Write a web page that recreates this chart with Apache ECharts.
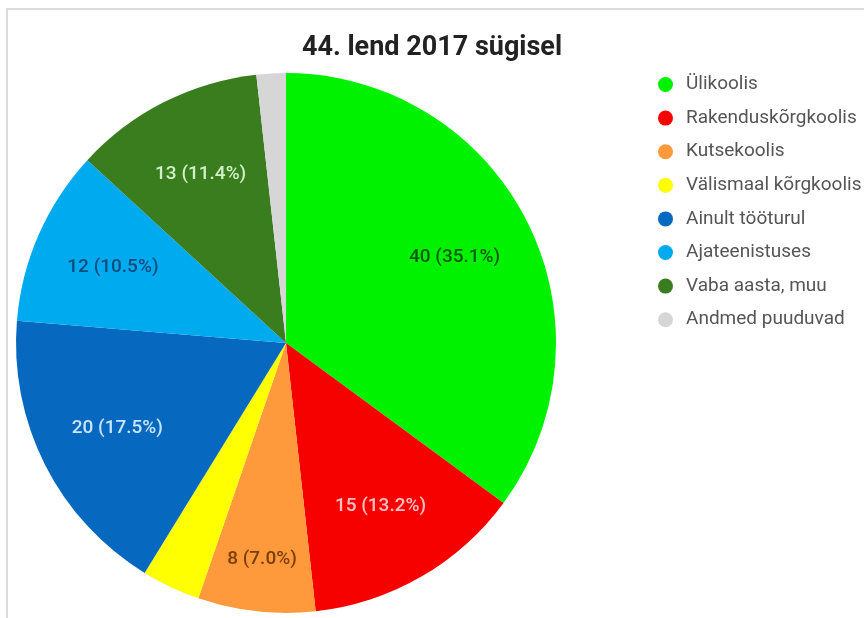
<!DOCTYPE html>
<html>
<head>
<meta charset="utf-8">
<script src="https://cdn.jsdelivr.net/npm/echarts@6/dist/echarts.min.js"></script>
<style>
html,body{margin:0;padding:0;background:#fff;}
#chart{width:864px;height:618px;}
</style>
</head>
<body>
<div id="chart"></div>
<script>
const titleText = '44. lend 2017 sügisel';
const categories = ['Ülikoolis','Rakenduskõrgkoolis','Kutsekoolis','Välismaal kõrgkoolis','Ainult tööturul','Ajateenistuses','Vaba aasta, muu','Andmed puuduvad'];
const values = [40, 15, 8, 4, 20, 12, 13, 2];
const colors = ['#00f200','#f70000','#ff9a3c','#ffff00','#0669bf','#00aaee','#3a7d1f','#d6d6d6'];
const labelColors = ['#0b5a0b','#ffc0c0','#7a3e08',null,'#c8e4ff','#0c4d80','#d0f0c8',null];
// which labels sit further out toward the rim
const outerLabel = ['Kutsekoolis'];

const chart = echarts.init(document.getElementById('chart'), null, {renderer:'canvas'});

const mainData = categories.map((n,i)=>({name:n, value:values[i], itemStyle:{color:colors[i]}}));
function labelData(outer){
  return categories.map((n,i)=>({
    name:n, value:values[i],
    itemStyle:{color:'rgba(0,0,0,0)'},
    label:{show: labelColors[i]!==null && (outerLabel.indexOf(n)>=0)===outer, color: labelColors[i] || '#000'}
  }));
}
const labelStyle = {
  position:'inside', fontFamily:'Roboto', fontSize:19, fontWeight:500,
  formatter:p=>p.value+' ('+p.percent.toFixed(1)+'%)'
};

chart.setOption({
  backgroundColor:'#fff',
  animation:false,
  title:{
    text:titleText, left:'center', top:30,
    padding:[5,0,5,12],
    textStyle:{fontFamily:'Roboto', fontSize:27, fontWeight:'bold', color:'#222'}
  },
  legend:{
    orient:'vertical', left:653, top:70,
    icon:'circle', itemWidth:15, itemHeight:15, itemGap:14.6,
    data:categories,
    textStyle:{fontFamily:'Roboto', fontSize:19, color:'#555', padding:[0,0,0,8]}
  },
  graphic:[{
    type:'rect', silent:true, z:-1,
    shape:{x:7, y:9, width:900, height:700},
    style:{fill:'none', stroke:'#dcdcdc', lineWidth:2}
  }],
  series:[
    {
      type:'pie', center:[286,343], radius:[0,270],
      startAngle:90, clockwise:true, silent:true,
      label:{show:false}, labelLine:{show:false},
      itemStyle:{borderWidth:0},
      data:mainData
    },
    {
      type:'pie', center:[286,343], radius:[102,270],
      startAngle:90, clockwise:true, silent:true,
      percentPrecision:3, labelLine:{show:false},
      label:labelStyle,
      data:labelData(false)
    },
    {
      type:'pie', center:[286,343], radius:[160,270],
      startAngle:90, clockwise:true, silent:true,
      percentPrecision:3, labelLine:{show:false},
      label:labelStyle,
      data:labelData(true)
    }
  ]
});
</script>
</body>
</html>
